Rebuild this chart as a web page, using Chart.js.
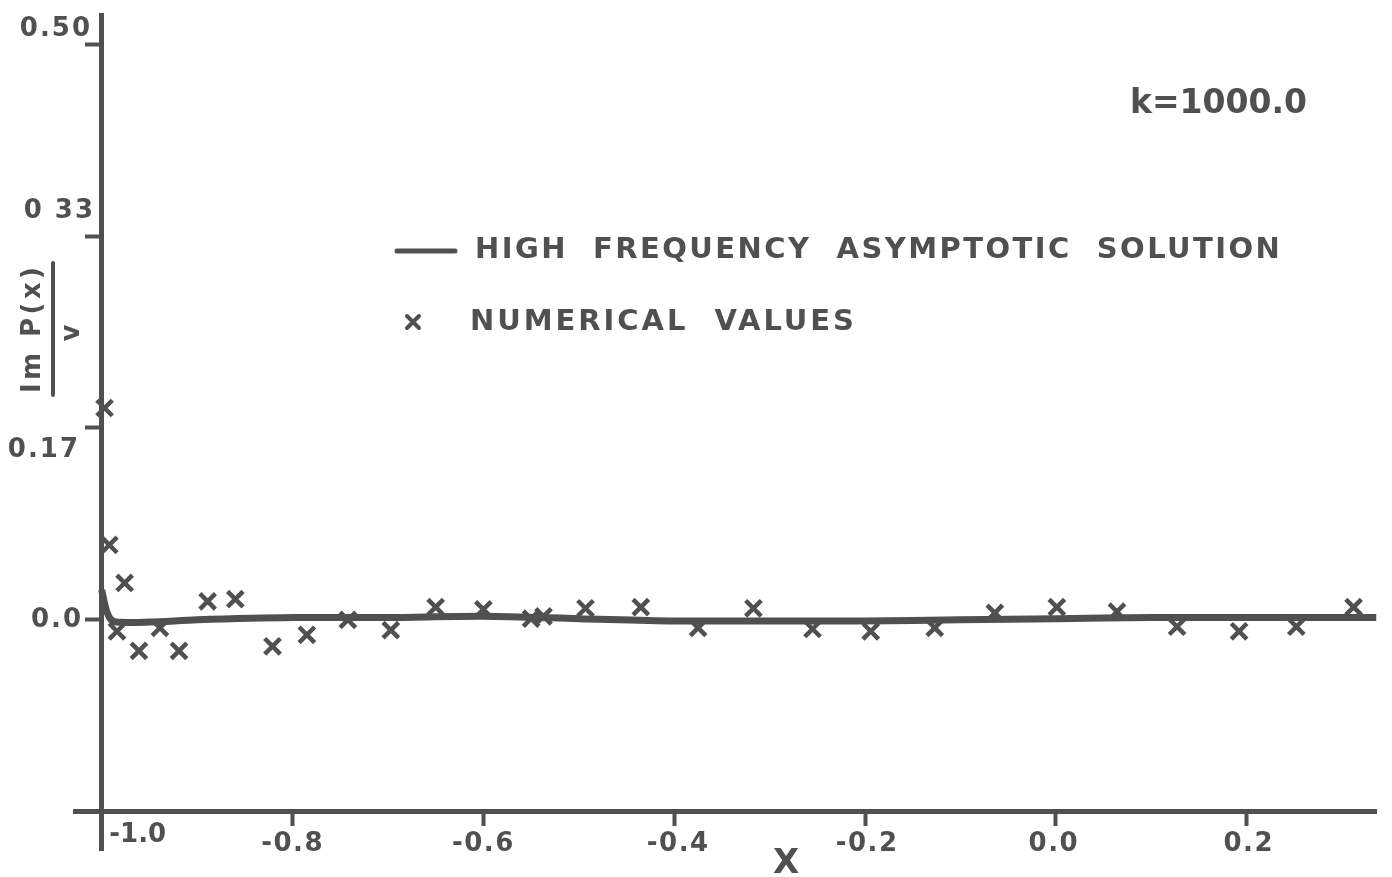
<!DOCTYPE html>
<html>
<head>
<meta charset="utf-8">
<script src="https://cdn.jsdelivr.net/npm/chart.js@4.4.1/dist/chart.umd.min.js"></script>
<style>
  html, body { margin: 0; padding: 0; background: #ffffff; }
  #wrap { width: 1392px; height: 877px; position: relative; }
</style>
</head>
<body>
<div id="wrap"><canvas id="c" width="1392" height="877"></canvas></div>
<script>
// ---- data ----
const numericalX = [-0.997, -0.992, -0.984, -0.976, -0.961, -0.939, -0.919, -0.889, -0.860, -0.821, -0.785, -0.742, -0.697, -0.650, -0.600, -0.550, -0.537, -0.493, -0.435, -0.375, -0.317, -0.255, -0.194, -0.127, -0.064, 0.001, 0.064, 0.127, 0.192, 0.252, 0.312];
const numericalY = [0.184, 0.065, -0.010, 0.032, -0.027, -0.007, -0.027, 0.016, 0.018, -0.023, -0.013, 0.000, -0.009, 0.011, 0.009, 0.001, 0.003, 0.010, 0.011, -0.007, 0.010, -0.008, -0.010, -0.007, 0.006, 0.011, 0.007, -0.006, -0.010, -0.006, 0.011];
const asymptoticX = [-1.000, -0.998, -0.995, -0.991, -0.985, -0.95, -0.90, -0.80, -0.70, -0.60, -0.50, -0.40, -0.30, -0.20, -0.10, 0.00, 0.10, 0.20, 0.30, 0.336];
const asymptoticY = [0.026, 0.018, 0.008, 0.001, -0.002, -0.002, 0.000, 0.002, 0.002, 0.003, 0.001, -0.001, -0.001, -0.001, 0.000, 0.001, 0.002, 0.002, 0.002, 0.002];
const xTickValues = [-1.0, -0.8, -0.6, -0.4, -0.2, 0.0, 0.2];
const xTickLabels = ["-1.0", "-0.8", "-0.6", "-0.4", "-0.2", "0.0", "0.2"];
const yTickValues = [0, 1/6, 1/3, 1/2];
const yTickLabels = ["0.0", "0.17", "0 33", "0.50"];
const seriesNames = ["HIGH  FREQUENCY  ASYMPTOTIC  SOLUTION", "NUMERICAL  VALUES"];
const annotationText = "k=1000.0";
const xTitle = "X";
const yTitleTop = "Im P(x)";
const yTitleBottom = "v";

const INK = "#505050";
const FONT = "'DejaVu Sans', 'Liberation Sans', sans-serif";

// hand-lettered label placement (offsets from the scale's tick pixel)
const yLabelDy = [0, 22, -25, -15];
const yLabelRight = [83, 80, 95, 92];
const xLabelDx = [36, 0, 0, 4, 2, -2, 2];

function fitText(ctx, text, x, y, width) {
  ctx.letterSpacing = "0px";
  const w = ctx.measureText(text).width;
  const extra = Math.max(0, (width - w) / Math.max(1, text.length - 1));
  ctx.letterSpacing = extra.toFixed(2) + "px";
  ctx.fillText(text, x, y);
  ctx.letterSpacing = "0px";
}

const annotations = {
  id: "annotations",
  afterDraw(chart) {
    const ctx = chart.ctx;
    const xs = chart.scales.x, ys = chart.scales.y;
    ctx.save();
    ctx.fillStyle = INK;
    ctx.strokeStyle = INK;
    ctx.textBaseline = "middle";

    // y tick labels
    ctx.font = "bold 26px " + FONT;
    ctx.textAlign = "right";
    yTickValues.forEach((v, i) => {
      ctx.letterSpacing = "2px";
      ctx.fillText(yTickLabels[i], yLabelRight[i], ys.getPixelForValue(v) + yLabelDy[i]);
    });
    ctx.letterSpacing = "0px";

    // x tick labels
    ctx.font = "bold 26px " + FONT;
    ctx.textAlign = "center";
    const xAxisPix = ys.getPixelForValue(-1/6);
    xTickValues.forEach((v, i) => {
      ctx.letterSpacing = i === 0 ? "0px" : "1.5px";
      ctx.fillText(xTickLabels[i], xs.getPixelForValue(v) + xLabelDx[i], xAxisPix + (i === 0 ? 24 : 33));
    });
    ctx.letterSpacing = "0px";

    // k label
    ctx.font = "bold 33px " + FONT;
    ctx.textAlign = "left";
    fitText(ctx, annotationText, 1130, 104, 175);

    // legend line
    ctx.lineWidth = 5;
    ctx.lineCap = "round";
    ctx.beginPath(); ctx.moveTo(397, 251); ctx.lineTo(455, 251); ctx.stroke();
    ctx.font = "bold 29px " + FONT;
    fitText(ctx, seriesNames[0], 475, 250, 805);
    // legend marker
    ctx.lineWidth = 4;
    const mx = 413, my = 322, r = 6;
    ctx.beginPath();
    ctx.moveTo(mx - r, my - r); ctx.lineTo(mx + r, my + r);
    ctx.moveTo(mx + r, my - r); ctx.lineTo(mx - r, my + r);
    ctx.stroke();
    fitText(ctx, seriesNames[1], 470, 322, 384);

    // x title
    ctx.font = "bold 34px " + FONT;
    ctx.textAlign = "center";
    ctx.fillText(xTitle, 786, 864);

    // y title (rotated fraction)
    ctx.translate(53, 329);
    ctx.rotate(-Math.PI / 2);
    ctx.font = "bold 26px " + FONT;
    ctx.textAlign = "left";
    fitText(ctx, yTitleTop, -64, -20, 126);
    ctx.lineWidth = 4;
    ctx.beginPath(); ctx.moveTo(-66, 0); ctx.lineTo(66, 0); ctx.stroke();
    ctx.textAlign = "center";
    ctx.fillText(yTitleBottom, -4, 19);
    ctx.restore();
  }
};

new Chart(document.getElementById("c"), {
  type: "scatter",
  data: {
    datasets: [
      {
        label: seriesNames[0],
        data: asymptoticX.map((x, i) => ({ x, y: asymptoticY[i] })),
        showLine: true,
        borderColor: INK,
        borderWidth: 7,
        pointRadius: 0,
        tension: 0.3,
        fill: false
      },
      {
        label: seriesNames[1],
        data: numericalX.map((x, i) => ({ x, y: numericalY[i] })),
        showLine: false,
        pointStyle: "crossRot",
        pointRadius: 11,
        borderColor: INK,
        backgroundColor: INK,
        pointBorderWidth: 4.5
      }
    ]
  },
  options: {
    responsive: false,
    animation: false,
    devicePixelRatio: 1,
    layout: { padding: { left: 75, right: 12, top: 15, bottom: 27 } },
    plugins: { legend: { display: false }, tooltip: { enabled: false } },
    scales: {
      x: {
        type: "linear",
        min: -1.028, max: 0.336,
        position: { y: -1/6 },
        afterBuildTicks: (s) => { s.ticks = xTickValues.map(v => ({ value: v })); },
        ticks: { display: false },
        grid: { display: true, drawOnChartArea: false, drawTicks: true, tickLength: 12, tickWidth: 4, color: INK },
        border: { display: true, color: INK, width: 5 }
      },
      y: {
        type: "linear",
        min: -0.2, max: 0.525,
        position: { x: -1.0 },
        afterBuildTicks: (s) => { s.ticks = yTickValues.map(v => ({ value: v })); },
        ticks: { display: false },
        grid: { display: true, drawOnChartArea: false, drawTicks: true, tickLength: 14, tickWidth: 4, color: INK },
        border: { display: true, color: INK, width: 5 }
      }
    }
  },
  plugins: [annotations]
});
</script>
</body>
</html>
